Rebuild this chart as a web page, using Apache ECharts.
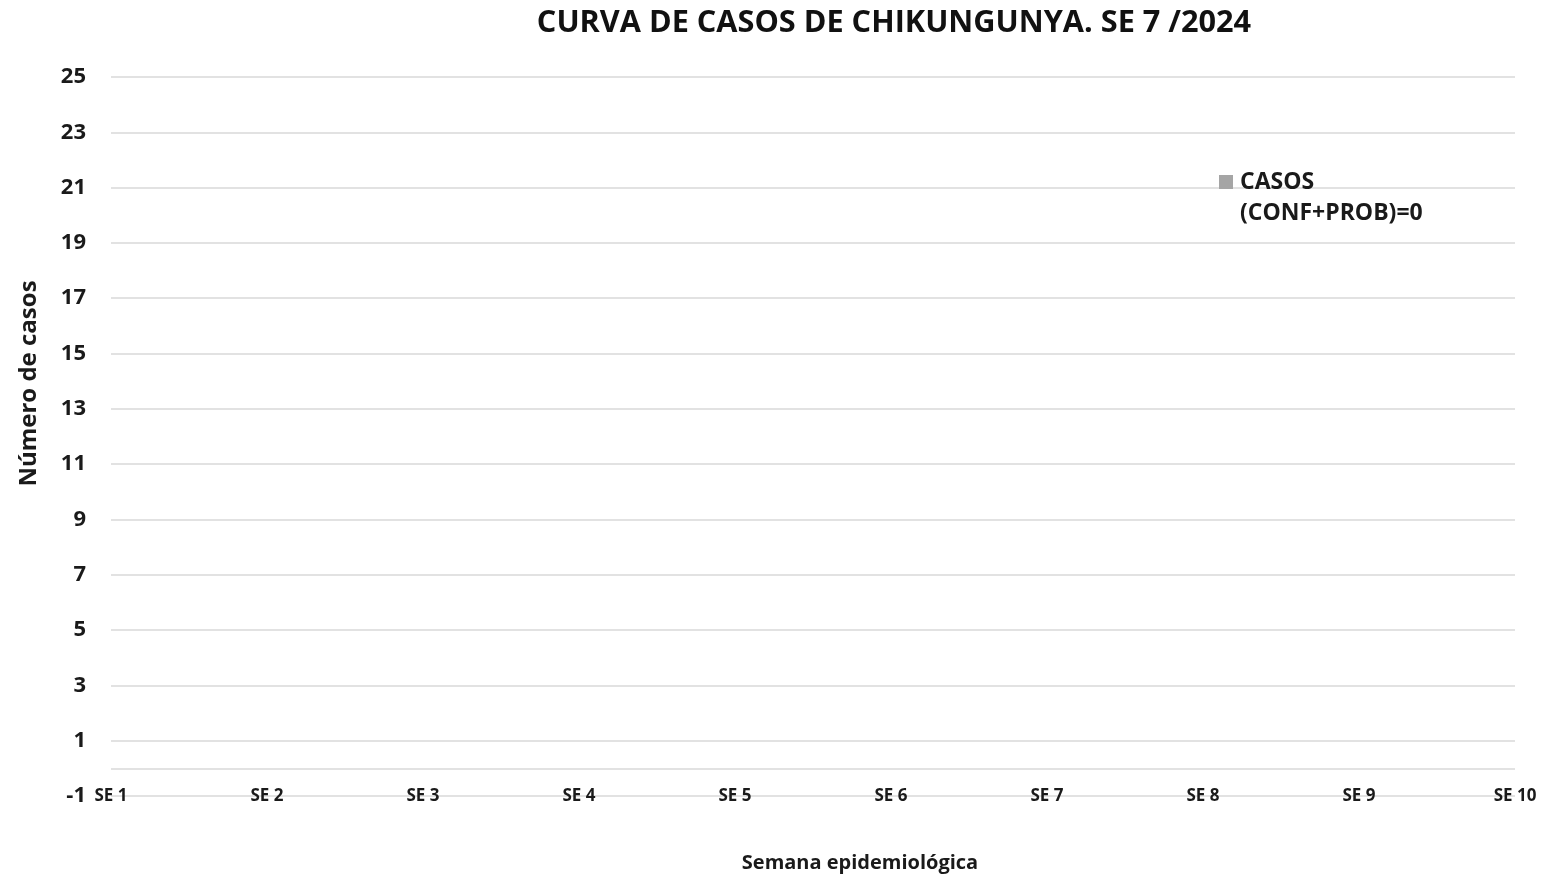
<!DOCTYPE html>
<html>
<head>
<meta charset="utf-8">
<script src="https://cdn.jsdelivr.net/npm/echarts@6/dist/echarts.min.js"></script>
<style>
html, body { margin: 0; padding: 0; background: #fff; }
#chart { width: 1552px; height: 875px; }
</style>
</head>
<body>
<div id="chart"></div>
<script>
// semanas epidemiologicas
var semanas = ['SE 1', 'SE 2', 'SE 3', 'SE 4', 'SE 5', 'SE 6', 'SE 7', 'SE 8', 'SE 9', 'SE 10'];
// casos confirmados + probables
var casos = [0, 0, 0, 0, 0, 0, 0, 0, 0, 0];

var fuente = '"Open Sans", "Noto Sans", sans-serif';
var myChart = echarts.init(document.getElementById('chart'));
var option = {
    title: {
        text: 'CURVA DE CASOS DE CHIKUNGUNYA. SE 7 /2024',
        left: 889,
        textAlign: 'center',
        top: 3,
        textStyle: { fontFamily: fuente, fontSize: 30.7, fontWeight: 'bold', color: '#111' }
    },
    legend: {
        left: 1219,
        top: 146,
        padding: 0,
        icon: 'rect',
        itemWidth: 14,
        itemHeight: 14,
        itemGap: 0,
        // linea vacia arriba para que el cuadro quede junto a "CASOS"
        formatter: function () { return '{sp| }\n{t|CASOS}\n{t|(CONF+PROB)=0}'; },
        textStyle: {
            fontFamily: fuente, fontSize: 23, fontWeight: 'bold', color: '#1a1a1a',
            rich: {
                sp: { lineHeight: 31, fontSize: 10 },
                t: { fontFamily: fuente, fontSize: 23, fontWeight: 'bold', color: '#1a1a1a', lineHeight: 31, padding: [0, 0, 0, 2] }
            }
        },
        data: ['CASOS']
    },
    grid: { left: 111, right: 37, top: 77, bottom: 79, outerBoundsMode: 'none' },
    xAxis: {
        type: 'category',
        data: semanas,
        boundaryGap: false,
        name: 'Semana epidemiológica',
        nameLocation: 'middle',
        nameGap: 57,
        nameTextStyle: { fontFamily: fuente, fontSize: 20, fontWeight: 'bold', color: '#1a1a1a', padding: [0, 0, 0, 94] },
        axisLine: { show: false },
        axisTick: { show: false },
        axisLabel: { fontFamily: fuente, fontSize: 17, fontWeight: 'bold', color: '#1a1a1a', margin: 0, verticalAlign: 'middle' },
        splitLine: { show: false }
    },
    yAxis: {
        type: 'value',
        min: -1,
        max: 25,
        interval: 2,
        name: 'Número de casos',
        nameLocation: 'middle',
        nameGap: 70,
        nameTextStyle: { fontFamily: fuente, fontSize: 24, fontWeight: 'bold', color: '#1a1a1a', padding: [0, 0, 0, 106] },
        axisLine: { show: false },
        axisTick: { show: false },
        axisLabel: { fontFamily: fuente, fontSize: 22, fontWeight: 'bold', color: '#1a1a1a', margin: 25 },
        splitLine: { lineStyle: { color: '#d9d9d9', width: 1.5 } }
    },
    series: [{
        name: 'CASOS',
        type: 'bar',
        data: casos,
        itemStyle: { color: '#a5a5a5' },
        markLine: {
            silent: true,
            symbol: 'none',
            label: { show: false },
            lineStyle: { color: '#d9d9d9', type: 'solid', width: 1.5 },
            data: [{ yAxis: 0 }]
        }
    }]
};
myChart.setOption(option);
</script>
</body>
</html>
